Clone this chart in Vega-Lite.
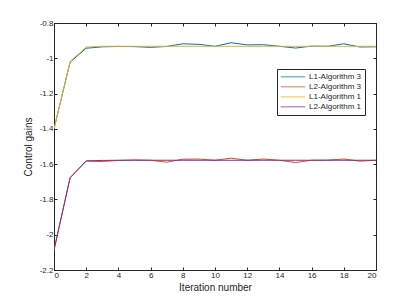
{
  "$schema": "https://vega.github.io/schema/vega-lite/v6.json",
  "autosize": "none",
  "width": 322,
  "height": 247,
  "padding": {"left": 54, "top": 23, "right": 39, "bottom": 34},
  "background": "white",
  "config": {
    "view": {"stroke": "#262626", "strokeWidth": 1},
    "axis": {"grid": false, "tickSize": -3}
  },
  "data": {
    "values": [
      {"s": "L1-Algorithm 3", "x": 0, "y": -1.4},
      {"s": "L1-Algorithm 3", "x": 1, "y": -1.022},
      {"s": "L1-Algorithm 3", "x": 2, "y": -0.943},
      {"s": "L1-Algorithm 3", "x": 3, "y": -0.935},
      {"s": "L1-Algorithm 3", "x": 4, "y": -0.933},
      {"s": "L1-Algorithm 3", "x": 5, "y": -0.934},
      {"s": "L1-Algorithm 3", "x": 6, "y": -0.938},
      {"s": "L1-Algorithm 3", "x": 7, "y": -0.933},
      {"s": "L1-Algorithm 3", "x": 8, "y": -0.918},
      {"s": "L1-Algorithm 3", "x": 9, "y": -0.921},
      {"s": "L1-Algorithm 3", "x": 10, "y": -0.932},
      {"s": "L1-Algorithm 3", "x": 11, "y": -0.912},
      {"s": "L1-Algorithm 3", "x": 12, "y": -0.924},
      {"s": "L1-Algorithm 3", "x": 13, "y": -0.923},
      {"s": "L1-Algorithm 3", "x": 14, "y": -0.932},
      {"s": "L1-Algorithm 3", "x": 15, "y": -0.942},
      {"s": "L1-Algorithm 3", "x": 16, "y": -0.931},
      {"s": "L1-Algorithm 3", "x": 17, "y": -0.932},
      {"s": "L1-Algorithm 3", "x": 18, "y": -0.918},
      {"s": "L1-Algorithm 3", "x": 19, "y": -0.936},
      {"s": "L1-Algorithm 3", "x": 20, "y": -0.935},
      {"s": "L2-Algorithm 3", "x": 0, "y": -2.087},
      {"s": "L2-Algorithm 3", "x": 1, "y": -1.677},
      {"s": "L2-Algorithm 3", "x": 2, "y": -1.583},
      {"s": "L2-Algorithm 3", "x": 3, "y": -1.585},
      {"s": "L2-Algorithm 3", "x": 4, "y": -1.579},
      {"s": "L2-Algorithm 3", "x": 5, "y": -1.576},
      {"s": "L2-Algorithm 3", "x": 6, "y": -1.578},
      {"s": "L2-Algorithm 3", "x": 7, "y": -1.589},
      {"s": "L2-Algorithm 3", "x": 8, "y": -1.572},
      {"s": "L2-Algorithm 3", "x": 9, "y": -1.571},
      {"s": "L2-Algorithm 3", "x": 10, "y": -1.578},
      {"s": "L2-Algorithm 3", "x": 11, "y": -1.566},
      {"s": "L2-Algorithm 3", "x": 12, "y": -1.578},
      {"s": "L2-Algorithm 3", "x": 13, "y": -1.571},
      {"s": "L2-Algorithm 3", "x": 14, "y": -1.578},
      {"s": "L2-Algorithm 3", "x": 15, "y": -1.591},
      {"s": "L2-Algorithm 3", "x": 16, "y": -1.578},
      {"s": "L2-Algorithm 3", "x": 17, "y": -1.577},
      {"s": "L2-Algorithm 3", "x": 18, "y": -1.571},
      {"s": "L2-Algorithm 3", "x": 19, "y": -1.583},
      {"s": "L2-Algorithm 3", "x": 20, "y": -1.578},
      {"s": "L1-Algorithm 1", "x": 0, "y": -1.4},
      {"s": "L1-Algorithm 1", "x": 1, "y": -1.018},
      {"s": "L1-Algorithm 1", "x": 2, "y": -0.936},
      {"s": "L1-Algorithm 1", "x": 3, "y": -0.932},
      {"s": "L1-Algorithm 1", "x": 4, "y": -0.932},
      {"s": "L1-Algorithm 1", "x": 5, "y": -0.932},
      {"s": "L1-Algorithm 1", "x": 6, "y": -0.932},
      {"s": "L1-Algorithm 1", "x": 7, "y": -0.932},
      {"s": "L1-Algorithm 1", "x": 8, "y": -0.932},
      {"s": "L1-Algorithm 1", "x": 9, "y": -0.932},
      {"s": "L1-Algorithm 1", "x": 10, "y": -0.932},
      {"s": "L1-Algorithm 1", "x": 11, "y": -0.932},
      {"s": "L1-Algorithm 1", "x": 12, "y": -0.932},
      {"s": "L1-Algorithm 1", "x": 13, "y": -0.932},
      {"s": "L1-Algorithm 1", "x": 14, "y": -0.932},
      {"s": "L1-Algorithm 1", "x": 15, "y": -0.932},
      {"s": "L1-Algorithm 1", "x": 16, "y": -0.932},
      {"s": "L1-Algorithm 1", "x": 17, "y": -0.932},
      {"s": "L1-Algorithm 1", "x": 18, "y": -0.932},
      {"s": "L1-Algorithm 1", "x": 19, "y": -0.932},
      {"s": "L1-Algorithm 1", "x": 20, "y": -0.932},
      {"s": "L2-Algorithm 1", "x": 0, "y": -2.087},
      {"s": "L2-Algorithm 1", "x": 1, "y": -1.677},
      {"s": "L2-Algorithm 1", "x": 2, "y": -1.581},
      {"s": "L2-Algorithm 1", "x": 3, "y": -1.579},
      {"s": "L2-Algorithm 1", "x": 4, "y": -1.578},
      {"s": "L2-Algorithm 1", "x": 5, "y": -1.578},
      {"s": "L2-Algorithm 1", "x": 6, "y": -1.578},
      {"s": "L2-Algorithm 1", "x": 7, "y": -1.578},
      {"s": "L2-Algorithm 1", "x": 8, "y": -1.578},
      {"s": "L2-Algorithm 1", "x": 9, "y": -1.578},
      {"s": "L2-Algorithm 1", "x": 10, "y": -1.578},
      {"s": "L2-Algorithm 1", "x": 11, "y": -1.578},
      {"s": "L2-Algorithm 1", "x": 12, "y": -1.578},
      {"s": "L2-Algorithm 1", "x": 13, "y": -1.578},
      {"s": "L2-Algorithm 1", "x": 14, "y": -1.578},
      {"s": "L2-Algorithm 1", "x": 15, "y": -1.578},
      {"s": "L2-Algorithm 1", "x": 16, "y": -1.578},
      {"s": "L2-Algorithm 1", "x": 17, "y": -1.578},
      {"s": "L2-Algorithm 1", "x": 18, "y": -1.578},
      {"s": "L2-Algorithm 1", "x": 19, "y": -1.578},
      {"s": "L2-Algorithm 1", "x": 20, "y": -1.578}
    ]
  },
  "layer": [
    {
      "mark": {"type": "point", "opacity": 0},
      "encoding": {
        "x": {
          "field": "x", "type": "quantitative",
          "scale": {"domain": [0, 20], "nice": false, "zero": false},
          "axis": {"orient": "top", "domainColor": "#262626", "tickColor": "#262626", "labelOpacity": 0, "title": ""}
        },
        "y": {
          "field": "y", "type": "quantitative",
          "scale": {"domain": [-2.2, -0.8], "nice": false, "zero": false},
          "axis": {"orient": "right", "domainColor": "#262626", "tickColor": "#262626", "labelOpacity": 0, "title": ""}
        }
      }
    },
    {
      "mark": {"type": "line", "strokeWidth": 1, "clip": true},
      "encoding": {
        "x": {
          "field": "x", "type": "quantitative",
          "scale": {"domain": [0, 20], "nice": false, "zero": false},
          "axis": {"orient": "bottom", "title": "Iteration number", "domainColor": "#262626", "tickColor": "#262626", "labelColor": "#262626", "labelFontSize": 8, "titleColor": "#262626", "titleFontSize": 10, "titleFontWeight": "normal", "labelPadding": 4, "titlePadding": 3}
        },
        "y": {
          "field": "y", "type": "quantitative",
          "scale": {"domain": [-2.2, -0.8], "nice": false, "zero": false},
          "axis": {"orient": "left", "title": "Control gains", "labelExpr": "round(datum.value*10)/10 + ''", "domainColor": "#262626", "tickColor": "#262626", "labelColor": "#262626", "labelFontSize": 8, "titleColor": "#262626", "titleFontSize": 10, "titleFontWeight": "normal", "labelPadding": 4, "titlePadding": 6}
        },
        "color": {
          "field": "s", "type": "nominal",
          "scale": {
            "domain": ["L1-Algorithm 3", "L2-Algorithm 3", "L1-Algorithm 1", "L2-Algorithm 1"],
            "range": ["#0072BD", "#D95319", "#EDB120", "#7E2F8E"]
          },
          "legend": {
            "title": null,
            "orient": "none",
            "legendX": 223,
            "legendY": 46,
            "direction": "vertical",
            "symbolType": "stroke",
            "symbolSize": 600,
            "symbolStrokeWidth": 1.5,
            "symbolOpacity": 0.5,
            "clipHeight": 9.5,
            "labelFontSize": 8,
            "labelColor": "#262626",
            "strokeColor": "#262626",
            "fillColor": "white",
            "padding": 3,
            "rowPadding": 0,
            "labelOffset": 3
          }
        }
      }
    }
  ]
}
